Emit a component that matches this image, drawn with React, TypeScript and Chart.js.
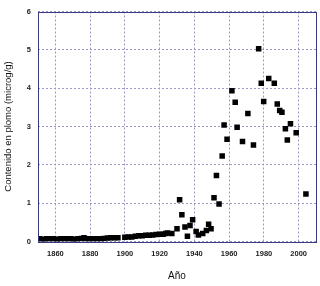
import React, { useEffect, useRef } from "react";
import { Chart, registerables } from "chart.js";

Chart.register(...registerables);

const years = [
  1851, 1853, 1855, 1857, 1859, 1861, 1863, 1865, 1867, 1869, 1871, 1873, 1875, 1876.5, 1878, 1880, 1882, 1884, 1886, 1888,
  1890, 1892, 1894, 1896, 1900, 1902, 1904, 1906, 1908, 1910, 1912, 1914, 1916, 1918, 1920, 1922, 1923.5, 1924.5, 1927,
  1930, 1931.5, 1932.8, 1934.6, 1936, 1937.5, 1939, 1941, 1942.3, 1944.8, 1946.9, 1948.2, 1949.6,
  1951.3, 1952.7, 1954.2, 1956, 1957.1, 1958.8, 1961.6, 1963.5, 1964.6, 1967.7, 1970.8, 1974, 1977,
  1978.5, 1979.9, 1982.8, 1986, 1987.7, 1989.1, 1990.4, 1992.4, 1993.5, 1995.3, 1998.6, 2004.2,
];
const lead = [
  0.07, 0.06, 0.07, 0.07, 0.07, 0.06, 0.07, 0.07, 0.07, 0.07, 0.06, 0.07, 0.08, 0.1, 0.07, 0.07, 0.07, 0.07, 0.07, 0.08,
  0.09, 0.1, 0.1, 0.1, 0.11, 0.12, 0.12, 0.14, 0.15, 0.15, 0.16, 0.16, 0.17, 0.18, 0.19, 0.19, 0.21, 0.22, 0.21,
  0.33, 1.09, 0.7, 0.38, 0.14, 0.42, 0.57, 0.26, 0.17, 0.21, 0.29, 0.45, 0.33,
  1.14, 1.72, 0.98, 2.23, 3.04, 2.67, 3.93, 3.63, 2.98, 2.61, 3.34, 2.52, 5.03,
  4.13, 3.65, 4.25, 4.13, 3.59, 3.42, 3.37, 2.94, 2.65, 3.07, 2.84, 1.24,
];
const xTicks = [1860, 1880, 1900, 1920, 1940, 1960, 1980, 2000];
const yTicks = [0, 1, 2, 3, 4, 5, 6];

const frame = {
  id: "frame",
  afterDraw(chart: any) {
    const { ctx, chartArea: a } = chart;
    ctx.save();
    ctx.strokeStyle = "#3a3a80";
    ctx.lineWidth = 1;
    ctx.strokeRect(Math.round(a.left) + 0.5, Math.round(a.top) + 0.5, Math.round(a.right - a.left), Math.round(a.bottom - a.top));
    ctx.restore();
  },
};

export default function App() {
  const ref = useRef<HTMLCanvasElement>(null);
  useEffect(() => {
    document.body.style.margin = "0";
    const tickFont = { family: "Liberation Sans, Arial", size: 7.5, weight: "bold" as const };
    const chart = new Chart(ref.current!, {
      type: "scatter",
      data: {
        datasets: [
          {
            data: years.map((y, i) => ({ x: y, y: lead[i] })),
            pointStyle: "rect",
            pointRadius: 3.9,
            backgroundColor: "#000",
            borderWidth: 0,
          },
        ],
      },
      options: {
        animation: false,
        responsive: false,
        layout: { padding: { left: 0, right: 4, top: 7, bottom: 0 } },
        plugins: { legend: { display: false }, tooltip: { enabled: false } },
        scales: {
          x: {
            type: "linear",
            min: 1850,
            max: 2010,
            afterBuildTicks: (s: any) => {
              s.ticks = xTicks.map((v) => ({ value: v }));
            },
            afterFit: (s: any) => {
              s.height = 44.5;
            },
            grid: { color: "#9a9ac8", drawTicks: false, lineWidth: 1 },
            border: { display: false, dash: [2, 2] },
            ticks: {
              padding: 8,
              color: "#222",
              font: tickFont,
              maxRotation: 0,
              callback: (v: any) => String(v),
            },
            title: {
              display: true,
              text: "Año",
              color: "#111",
              font: { family: "Liberation Sans, Arial", size: 10 },
              padding: { top: 4, bottom: 4 },
            },
          },
          y: {
            min: 0,
            max: 6,
            afterBuildTicks: (s: any) => {
              s.ticks = yTicks.map((v) => ({ value: v }));
            },
            afterFit: (s: any) => {
              s.width = 38;
            },
            grid: { color: "#9a9ac8", drawTicks: false, lineWidth: 1 },
            border: { display: false, dash: [2, 2] },
            ticks: {
              padding: 7,
              color: "#222",
              font: tickFont,
              callback: (v: any) => String(v),
            },
            title: {
              display: true,
              text: "Contenido en plomo (microg/g)",
              color: "#111",
              font: { family: "Liberation Sans, Arial", size: 9.5 },
              padding: { top: 3, bottom: 3 },
            },
          },
        },
      },
      plugins: [frame],
    });
    return () => chart.destroy();
  }, []);
  return (
    <div style={{ width: 320, height: 286, background: "#fff" }}>
      <canvas ref={ref} width={320} height={286} />
    </div>
  );
}
